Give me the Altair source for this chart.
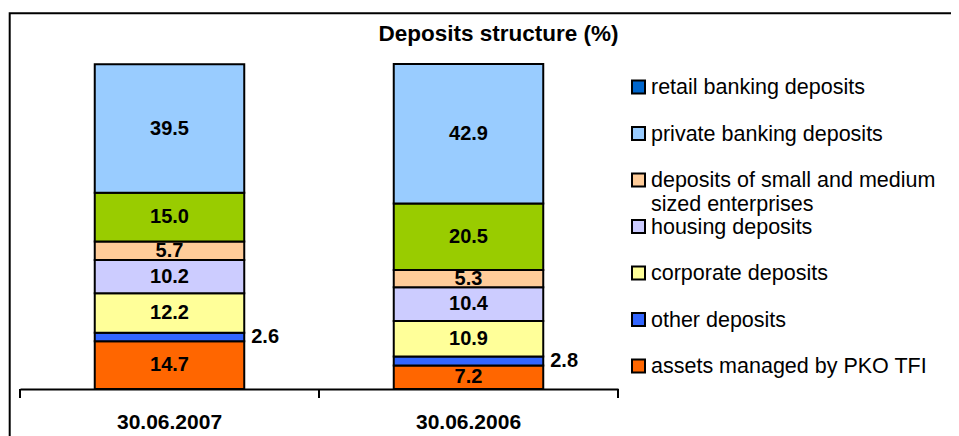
import altair as alt
import pandas as pd

# ---- data ----
dates = ["30.06.2007", "30.06.2006"]
series = [
    "assets managed by PKO TFI",
    "other deposits",
    "corporate deposits",
    "housing deposits",
    "deposits of small and medium sized enterprises",
    "retail banking deposits",
    "private banking deposits",
]
values_2007 = [14.7, 2.6, 12.2, 10.2, 5.7, 15.0, 39.5]
values_2006 = [7.2, 2.8, 10.9, 10.4, 5.3, 20.5, 42.9]
bar_colors = ["#FF6600", "#3366FF", "#FFFF99", "#CCCCFF", "#FFCC99", "#99CC00", "#99CCFF"]

legend_labels = [
    "retail banking deposits",
    "private banking deposits",
    "deposits of small and medium\nsized enterprises",
    "housing deposits",
    "corporate deposits",
    "other deposits",
    "assets managed by PKO TFI",
]
legend_colors = ["#0066CC", "#99CCFF", "#FFCC99", "#CCCCFF", "#FFFF99", "#3366FF", "#FF6600"]

title_text = "Deposits structure (%)"

rows = []
for d, vals in zip(dates, [values_2007, values_2006]):
    for i, (s, v) in enumerate(zip(series, vals)):
        rows.append({"date": d, "series": s, "value": v, "idx": i})
df = pd.DataFrame(rows)
dates_df = pd.DataFrame({"date": dates})

leg = pd.DataFrame({"label": legend_labels, "color": legend_colors,
                    "rank": list(range(len(legend_labels)))})

FONT = "Liberation Sans, Arial, sans-serif"

axis_x = alt.Axis(labelAngle=0, labelFont=FONT, labelFontSize=21, labelFontWeight="bold",
                  labelColor="#000", domainColor="#000", domainWidth=2,
                  ticks=False, labelPadding=22, grid=False)
x_scale = alt.Scale(paddingInner=0.5, paddingOuter=0.25)
y_scale = alt.Scale(domain=[0, 100], nice=False, zero=True)
HALF_GAP = 74.75  # half of the gap between bars (style offset for boundary ticks)

base = alt.Chart(df)

bars = base.mark_bar(stroke="#000", strokeWidth=2).encode(
    x=alt.X("date:N", sort=dates, title=None, scale=x_scale, axis=axis_x),
    y=alt.Y("value:Q", stack="zero", scale=y_scale, axis=None),
    color=alt.Color("series:N", scale=alt.Scale(domain=series, range=bar_colors), legend=None),
    order=alt.Order("idx:Q", sort="ascending"),
)

stacked = base.transform_stack(
    stack="value", groupby=["date"], sort=[alt.SortField("idx", order="ascending")],
    as_=["y0", "y1"],
).transform_calculate(mid="(datum.y0 + datum.y1) / 2")

labels_in = stacked.transform_filter("datum.series != 'other deposits'").mark_text(
    font=FONT, fontSize=20, fontWeight="bold", color="#000", baseline="middle"
).encode(
    x=alt.X("date:N", sort=dates, title=None, scale=x_scale, axis=axis_x),
    y=alt.Y("mid:Q", scale=y_scale, axis=None),
    text=alt.Text("value:Q", format=".1f"),
)

labels_out = stacked.transform_filter("datum.series == 'other deposits'").mark_text(
    font=FONT, fontSize=20, fontWeight="bold", color="#000", baseline="middle",
    align="left", dx=7
).encode(
    x=alt.X("date:N", sort=dates, title=None, bandPosition=1, scale=x_scale, axis=axis_x),
    y=alt.Y("mid:Q", scale=y_scale, axis=None),
    text=alt.Text("value:Q", format=".1f"),
)

# category boundary ticks below the axis line
ticks_left = alt.Chart(dates_df).mark_rule(color="#000", strokeWidth=2, xOffset=-HALF_GAP).encode(
    x=alt.X("date:N", sort=dates, title=None, bandPosition=0, scale=x_scale, axis=axis_x),
    y=alt.value(325), y2=alt.value(334),
)
ticks_right = alt.Chart(dates_df).transform_filter(
    alt.datum.date == dates[-1]
).mark_rule(color="#000", strokeWidth=2, xOffset=HALF_GAP).encode(
    x=alt.X("date:N", sort=dates, title=None, bandPosition=1, scale=x_scale, axis=axis_x),
    y=alt.value(325), y2=alt.value(334),
)

plot = alt.layer(bars, labels_in, labels_out, ticks_left, ticks_right)

one = alt.Data(values=[{}])

frame = alt.Chart(one).mark_rect(fill="transparent", stroke="#000", strokeWidth=2).encode(
    x=alt.value(-10.3), x2=alt.value(1000), y=alt.value(-50.7), y2=alt.value(600)
)

title = alt.Chart(one).mark_text(
    text=title_text, font=FONT, fontSize=22.5, fontWeight="bold", color="#000",
    baseline="middle", align="center"
).encode(x=alt.value(478.5), y=alt.value(-30))

leg_y = alt.Y("rank:Q", scale=alt.Scale(domain=[0, 6], range=[23, 302], nice=False, zero=False), axis=None)

leg_sq = alt.Chart(leg).mark_square(size=169, stroke="#000", strokeWidth=2, opacity=1).encode(
    x=alt.value(618.5),
    y=leg_y,
    fill=alt.Fill("color:N", scale=None),
)
leg_txt = alt.Chart(leg).mark_text(
    font=FONT, fontSize=21.5, color="#000", align="left", baseline="middle",
    lineBreak="\n", lineHeight=24, dy=1
).encode(
    x=alt.value(631),
    y=leg_y,
    text="label:N",
)

chart = alt.layer(frame, title, plot, leg_sq, leg_txt).resolve_scale(
    y="independent"
).properties(
    width=598, height=325,
    padding={"left": 12, "top": 56, "right": 333, "bottom": 47},
    autosize=alt.AutoSizeParams(type="none"),
).configure_view(stroke="transparent")

chart.save("out.html", embed_options={"renderer": "svg", "actions": False})
